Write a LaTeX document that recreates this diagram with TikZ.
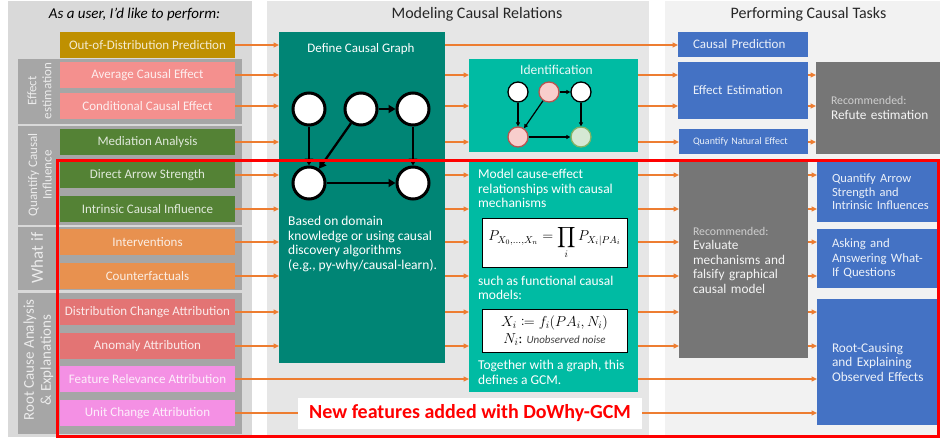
\documentclass[tikz,border=0pt]{standalone}
\usepackage{amsmath}
\usepackage{mathtools}
\usepackage[no-math]{fontspec}
\setmainfont{Carlito}
\usetikzlibrary{arrows.meta}
\definecolor{panelL}{HTML}{D9D9D9}
\definecolor{panelM}{HTML}{E6E6E6}
\definecolor{panelR}{HTML}{F2F2F2}
\definecolor{grp}{HTML}{A6A6A6}
\definecolor{gold}{HTML}{BF9000}
\definecolor{rose}{HTML}{F4908E}
\definecolor{leaf}{HTML}{548235}
\definecolor{tang}{HTML}{E8914F}
\definecolor{salmon}{HTML}{E37474}
\definecolor{orchid}{HTML}{F490E4}
\definecolor{tealD}{HTML}{008575}
\definecolor{tealL}{HTML}{00BBA3}
\definecolor{azure}{HTML}{4472C4}
\definecolor{slate}{HTML}{767676}
\definecolor{flow}{HTML}{ED7D31}
\definecolor{pinkF}{HTML}{F8CECC}
\definecolor{pinkB}{HTML}{B85450}
\definecolor{greenF}{HTML}{D5E8D4}
\definecolor{greenB}{HTML}{82B366}
\definecolor{titletext}{HTML}{262626}
\tikzset{
  box/.style={inner sep=0pt, outer sep=0pt, anchor=north west, draw=none},
  lbox/.style={box, minimum width=175pt, minimum height=26pt, font=\fontsize{13}{15}\selectfont},
  grplabel/.style={rotate=90, align=center, inner sep=0pt, text=white!78!grp},
  flowarrow/.style={draw=flow, line width=1.3pt, -{Triangle[length=5.5pt,width=5pt]}},
  bignode/.style={circle, draw=black, fill=white, line width=3pt, minimum size=32pt, inner sep=0pt},
  bigedge/.style={draw=black, line width=2.3pt, -{Triangle[length=7pt,width=8pt]}},
  smallnode/.style={circle, draw=black, fill=white, line width=1.3pt, minimum size=20pt, inner sep=0pt},
  smalledge/.style={draw=black, line width=1.2pt, -{Triangle[length=4pt,width=4pt]}},
  rbox/.style={box, align=left, inner xsep=15pt, font=\fontsize{13}{14.5}\selectfont, text=white!90!azure},
  paratext/.style={anchor=base west, align=left, inner sep=0pt, text=white, font=\fontsize{13.5}{14.5}\selectfont},
  fbox/.style={box, fill=white, draw=black, line width=1pt, minimum width=145pt, align=center},
  heading/.style={anchor=base, inner sep=0pt, text=titletext, font=\fontsize{16}{18}\selectfont},
}
\begin{document}
\begin{tikzpicture}[x=1pt,y=-1pt]
\useasboundingbox (0,0) rectangle (940,439);
\fill[white] (0,0) rectangle (940,439);
% panels
\fill[panelL] (8,1) rectangle (252,437);
\fill[panelM] (267,1) rectangle (649,437);
\fill[panelR] (665,1) rectangle (940,437);
% groups
\fill[grp] (18,59) rectangle (242,124);
\fill[grp] (18,126) rectangle (242,225);
\fill[grp] (18,227) rectangle (242,290);
\fill[grp] (18,293) rectangle (242,434);
% headings
\node[heading, font=\fontsize{15}{17}\selectfont\itshape, text=black] (hL) at (134.5,18) {As a user, I’d like to perform:};
\node[heading] (hM) at (477,18) {Modeling Causal Relations};
\node[heading] (hR) at (808.5,18) {Performing Causal Tasks};
% group labels
\node[grplabel, font=\fontsize{13}{15}\selectfont] (gEff) at (39.5,91) {Effect\\estimation};
\node[grplabel, font=\fontsize{13}{14.5}\selectfont] (gQci) at (40,175) {Quantify Causal\\Influence};
\node[grplabel, font=\fontsize{17}{19}\selectfont] (gWif) at (37,258) {What if};
\node[grplabel, font=\fontsize{15}{17}\selectfont] (gRca) at (38.5,360) {Root Cause Analysis\\\& Explanations};
% left boxes
\node[lbox, fill=gold, text=white!82!gold] (ood) at (60,32) {Out-of-Distribution Prediction};
\node[lbox, fill=rose, text=white!85!rose] (ace) at (60,62) {Average Causal Effect};
\node[lbox, fill=rose, text=white!85!rose] (cce) at (60,93) {Conditional Causal Effect};
\node[lbox, fill=leaf, text=white!82!leaf] (med) at (60,129) {Mediation Analysis};
\node[lbox, fill=leaf, text=white!82!leaf] (das) at (60,162) {Direct Arrow Strength};
\node[lbox, fill=leaf, text=white!82!leaf] (ici) at (60,196) {Intrinsic Causal Influence};
\node[lbox, fill=tang, text=white!85!tang] (int) at (60,229) {Interventions};
\node[lbox, fill=tang, text=white!85!tang] (cf) at (60,263) {Counterfactuals};
\node[lbox, fill=salmon, text=white!85!salmon] (dca) at (60,299) {Distribution Change Attribution};
\node[lbox, fill=salmon, text=white!85!salmon] (aa) at (60,333) {Anomaly Attribution};
\node[lbox, fill=orchid, text=white!85!orchid] (fra) at (60,366) {Feature Relevance Attribution};
\node[lbox, fill=orchid, text=white!85!orchid] (uca) at (60,400) {Unit Change Attribution};
% middle boxes
\node[box, fill=tealD, minimum width=166pt, minimum height=331pt] (dcg) at (279,32) {};
\node[heading, text=white, font=\fontsize{13}{15}\selectfont] (dcgT) at (361,52) {Define Causal Graph};
\node[bignode] (c1) at (309,109) {};
\node[bignode] (c2) at (361,109) {};
\node[bignode] (c3) at (413,109) {};
\node[bignode] (c4) at (309,183) {};
\node[bignode] (c5) at (413,183) {};
\draw[bigedge] (c1) -- (c4);
\draw[bigedge] (c2) -- (c4);
\draw[bigedge] (c2) -- (c3);
\draw[bigedge] (c3) -- (c5);
\draw[bigedge] (c4) -- (c5);
\node[paratext, font=\fontsize{13.5}{14.7}\selectfont] (dcgX) at (288,269.5) {Based on domain\\knowledge or using causal\\discovery algorithms\\(e.g., py-why/causal-learn).};

\node[box, fill=tealL, minimum width=169pt, minimum height=93pt] (ident) at (469,59) {};
\node[heading, text=white!92!tealL, font=\fontsize{13.5}{15}\selectfont] (identT) at (556.5,74) {Identification};
\node[smallnode] (s1) at (518,92) {};
\node[smallnode, fill=pinkF, draw=pinkB] (s2) at (549,92) {};
\node[smallnode] (s3) at (581,92) {};
\node[smallnode, fill=pinkF, draw=pinkB] (s4) at (518,137) {};
\node[smallnode, fill=greenF, draw=greenB] (s5) at (581,137) {};
\draw[smalledge] (s1) -- (s4);
\draw[smalledge] (s2) -- (s4);
\draw[smalledge] (s2) -- (s3);
\draw[smalledge] (s3) -- (s5);
\draw[smalledge] (s4) -- (s5);

\node[box, fill=tealL, minimum width=169pt, minimum height=230pt] (model) at (469,162) {};
\node[paratext] (mT1) at (478,207.5) {Model cause-effect\\relationships with causal\\mechanisms};
\node[fbox, minimum height=49pt, font=\fontsize{14}{16}\selectfont] (f1) at (482,218) {$\displaystyle P_{X_0,\ldots,X_n}=\prod_i P_{X_i|PA_i}$};
\node[paratext] (mT2) at (478,299.5) {such as functional causal\\models:};
\node[fbox, minimum height=43pt, font=\fontsize{14}{17}\selectfont] (f2) at (482,309) {$X_i \coloneqq f_i(PA_i,N_i)$\\$N_i$: {\color{black!75}\itshape\fontsize{11}{12}\selectfont Unobserved noise}};
\node[paratext] (mT3) at (478,384) {Together with a graph, this\\defines a GCM.};

% right boxes
\node[rbox, fill=azure, minimum width=130pt, text width=100pt, minimum height=25pt] (cp) at (678,32) {Causal Prediction};
\node[rbox, fill=azure, minimum width=130pt, text width=100pt, minimum height=57pt] (ee) at (678,62) {Effect Estimation};
\node[rbox, fill=azure, minimum width=129pt, minimum height=25pt, inner xsep=14pt, text width=101pt, font=\fontsize{10}{12}\selectfont] (qne) at (679,129) {Quantify Natural Effect};
\node[rbox, fill=slate, text=white!92!slate, minimum width=134pt, text width=104pt, minimum height=92pt, font=\fontsize{13.3}{15}\selectfont] (refute) at (816,62) {{\color{white!65!slate}\fontsize{11.8}{15}\selectfont Recommended:}\\Refute estimation};
\node[rbox, fill=slate, text=white!92!slate, minimum width=129pt, inner xsep=14pt, text width=101pt, minimum height=196pt, font=\fontsize{13.3}{14.5}\selectfont] (eval) at (679,162) {{\color{white!65!slate}\fontsize{11.8}{14.5}\selectfont Recommended:}\\Evaluate\\mechanisms and\\falsify graphical\\causal model};
\node[rbox, fill=azure, minimum width=133pt, text width=103pt, minimum height=60pt, font=\fontsize{12.5}{13.5}\selectfont] (qas) at (817,162) {Quantify Arrow\\Strength and\\Intrinsic Influences};
\node[rbox, fill=azure, minimum width=133pt, text width=103pt, minimum height=59pt, font=\fontsize{12.8}{14.5}\selectfont] (ask) at (817,229) {Asking and\\Answering What-\\If Questions};
\node[rbox, fill=azure, minimum width=133pt, text width=103pt, minimum height=126pt, font=\fontsize{13.3}{14.5}\selectfont] (rc) at (817,299) {Root-Causing\\and Explaining\\Observed Effects};

% connectors
\foreach \n in {ood,ace,cce,med,das,ici,int,cf,dca,aa}
  \draw[flowarrow] (\n.east) -- (\n.east -| dcg.west);
\draw[flowarrow] (fra.east) -- (fra.east -| model.west);
\draw[flowarrow] (uca.east) -- (uca.east -| rc.west);
\draw[flowarrow] (ood.east -| dcg.east) -- (ood.east -| cp.west);
\foreach \n in {ace,cce,med}
  \draw[flowarrow] (\n.east -| dcg.east) -- (\n.east -| ident.west);
\foreach \n in {das,ici,int,cf,dca,aa}
  \draw[flowarrow] (\n.east -| dcg.east) -- (\n.east -| model.west);
\foreach \n in {ace,cce}
  \draw[flowarrow] (\n.east -| ident.east) -- (\n.east -| ee.west);
\draw[flowarrow] (med.east -| ident.east) -- (med.east -| qne.west);
\foreach \n in {das,ici,int,cf,dca,aa}
  \draw[flowarrow] (\n.east -| model.east) -- (\n.east -| eval.west);
\draw[flowarrow] (fra.east -| model.east) -- (fra.east -| rc.west);
\foreach \n in {ace,cce}
  \draw[flowarrow] (\n.east -| ee.east) -- (\n.east -| refute.west);
\draw[flowarrow] (med.east -| qne.east) -- (med.east -| refute.west);
\foreach \n in {das,ici}
  \draw[flowarrow] (\n.east -| eval.east) -- (\n.east -| qas.west);
\foreach \n in {int,cf}
  \draw[flowarrow] (\n.east -| eval.east) -- (\n.east -| ask.west);
\foreach \n in {dca,aa}
  \draw[flowarrow] (\n.east -| eval.east) -- (\n.east -| rc.west);

\node[box, fill=white, minimum width=344pt, minimum height=31pt, font=\fontsize{20}{22}\selectfont\bfseries, text=red] (newfeat) at (298,398) {New features added with DoWhy-GCM};
\draw[red, line width=3pt] (57,160) rectangle (938,436);
\end{tikzpicture}
\end{document}
